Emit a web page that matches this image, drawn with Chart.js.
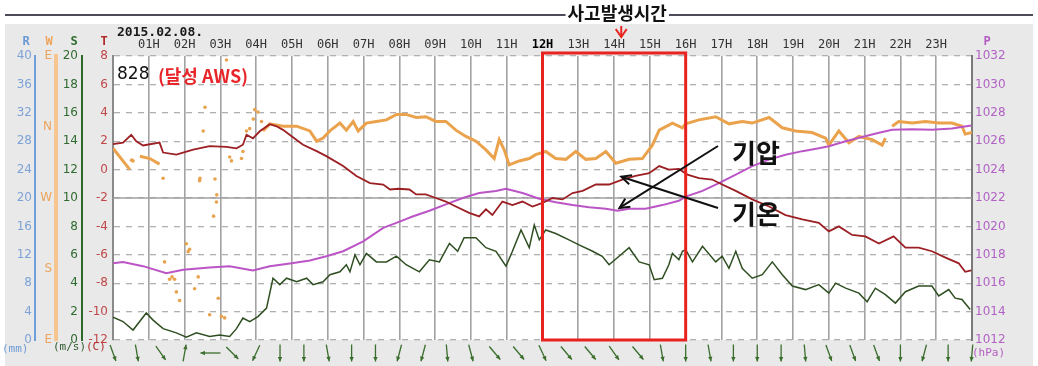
<!DOCTYPE html>
<html>
<head>
<meta charset="utf-8">
<script src="https://cdn.jsdelivr.net/npm/chart.js@4.4.1/dist/chart.umd.min.js"></script>
<style>
  html, body { margin: 0; padding: 0; background: #fff; }
  #wrap { width: 1038px; height: 366px; }
</style>
</head>
<body>
<div id="wrap"><canvas id="myChart" width="1038" height="366"></canvas></div>
<script>
// 기온 (C)
const tempHours = [0.00,0.28,0.51,0.65,0.84,1.30,1.40,1.77,2.24,2.70,3.17,3.45,3.63,3.73,3.91,4.10,4.38,4.57,4.75,4.99,5.31,5.69,5.96,6.43,6.80,7.18,7.55,7.74,7.97,8.28,8.47,8.74,9.02,9.30,9.58,9.95,10.23,10.42,10.60,10.88,11.16,11.44,11.72,12.00,12.28,12.56,12.84,13.12,13.49,13.86,14.23,14.60,14.98,15.26,15.53,15.81,16.05,16.37,16.74,17.02,17.40,17.86,18.33,18.79,19.26,19.72,20.00,20.28,20.65,21.02,21.40,21.81,22.14,22.51,22.88,23.26,23.63,23.81,23.98];
const tempValues = [1.8,1.9,2.45,2.0,1.7,1.9,1.2,1.05,1.4,1.65,1.6,1.5,1.75,2.45,2.2,2.7,3.2,3.05,2.8,2.35,1.75,1.3,0.95,0.25,-0.45,-0.95,-1.05,-1.4,-1.35,-1.4,-1.75,-1.75,-2.0,-2.25,-2.6,-3.05,-3.3,-2.8,-3.2,-2.25,-2.5,-2.25,-2.6,-2.35,-2.0,-2.1,-1.65,-1.5,-1.05,-1.05,-0.7,-0.45,-0.25,0.25,0.0,0.05,-0.35,-0.6,-0.7,-1.05,-1.5,-2.1,-2.6,-3.2,-3.5,-3.75,-4.35,-4.0,-4.6,-4.7,-5.2,-4.7,-5.5,-5.5,-5.75,-6.2,-6.6,-7.2,-7.1];

// 기압 (hPa)
const presHours = [0.0,0.28,0.84,1.49,1.96,2.70,3.26,3.91,4.38,4.99,5.50,5.96,6.43,6.99,7.55,7.97,8.37,8.84,9.30,9.77,10.23,10.70,10.98,11.44,11.91,12.37,12.84,13.30,13.77,14.10,14.42,14.88,15.35,15.81,16.0,16.47,16.93,17.40,17.86,18.33,18.79,19.26,19.72,20.0,20.47,20.93,21.40,21.77,22.33,22.88,23.44,23.98];
const presValues = [1017.4,1017.5,1017.2,1016.7,1016.95,1017.1,1017.2,1016.9,1017.2,1017.4,1017.6,1017.9,1018.25,1018.95,1019.9,1020.3,1020.7,1021.1,1021.55,1022.0,1022.35,1022.5,1022.65,1022.35,1021.95,1021.7,1021.5,1021.35,1021.25,1021.1,1021.25,1021.25,1021.5,1021.8,1022.1,1022.5,1023.05,1023.65,1024.25,1024.7,1025.05,1025.3,1025.5,1025.65,1026.0,1026.3,1026.6,1026.8,1026.85,1026.8,1026.9,1027.1];

// 풍속 (m/s)
const speedHours = [0.0,0.28,0.56,0.93,1.12,1.40,1.77,2.05,2.33,2.70,2.98,3.26,3.45,3.63,3.82,4.05,4.29,4.47,4.66,4.85,5.13,5.41,5.59,5.87,6.06,6.34,6.52,6.62,6.76,6.90,7.08,7.36,7.64,7.92,8.19,8.56,8.84,9.12,9.40,9.63,9.81,10.14,10.42,10.70,10.98,11.16,11.40,11.63,11.77,11.91,12.09,12.37,12.74,13.02,13.40,13.67,13.86,14.14,14.42,14.70,14.98,15.12,15.35,15.53,15.63,15.81,15.91,16.0,16.19,16.47,16.84,17.02,17.21,17.40,17.58,17.86,18.14,18.42,18.70,18.98,19.35,19.72,20.0,20.19,20.47,20.84,21.07,21.30,21.58,21.86,22.14,22.51,22.88,23.07,23.35,23.53,23.72,23.95];
const speedValues = [1.6,1.3,0.7,1.9,1.4,0.8,0.5,0.2,0.5,0.25,0.35,0.25,0.8,1.55,1.3,1.65,2.25,4.35,3.9,4.35,4.1,4.35,3.9,4.1,4.6,4.8,5.3,4.8,6.0,5.3,6.1,5.5,5.5,5.9,5.3,4.8,5.65,5.5,6.8,6.25,7.2,7.2,6.5,6.25,5.2,6.25,7.75,6.5,8.1,7.05,7.75,7.5,7.05,6.7,6.25,5.9,5.3,5.9,6.5,5.5,5.3,4.25,4.35,5.3,6.1,5.65,6.25,6.35,5.5,6.6,5.5,5.9,5.05,6.25,5.05,4.35,4.6,5.5,4.6,3.8,3.55,3.9,3.3,4.0,3.65,3.3,2.7,3.65,3.2,2.6,3.4,3.8,3.8,3.1,3.55,2.95,2.85,2.15];

// 풍향 (deg, null = 끊김)
const dirHours = [0.0,0.47,0.6,0.75,1.03,1.30,1.5,4.19,4.38,4.75,5.13,5.50,5.69,5.87,6.06,6.34,6.52,6.71,6.85,7.08,7.36,7.64,7.92,8.19,8.47,8.74,9.02,9.30,9.58,9.86,10.14,10.42,10.65,10.79,10.93,11.07,11.35,11.63,11.81,12.09,12.37,12.65,12.93,13.21,13.49,13.77,14.05,14.42,14.79,15.07,15.26,15.63,15.91,16.0,16.37,16.84,17.21,17.58,17.86,18.33,18.70,19.07,19.53,19.91,20.0,20.28,20.56,20.84,21.21,21.49,21.58,21.68,21.77,21.95,22.33,22.70,23.07,23.44,23.72,23.81,24.0];
const dirValues = [333,306,null,323,320,313,null,355,4,1,1,355,342,346,355,5,356,7,355,5,7,9,16,16,12,13,7,7,356,348,342,331,320,344,331,312,317,320,325,329,320,319,329,319,320,329,314,319,320,337,356,5,359,4,9,13,4,7,5,12,359,355,353,346,337,355,340,348,344,337,346,null,1,7,5,7,5,5,1,351,353];
// 풍향 흩어진 점 (새벽 약풍)
const dirDotHours = [0.52,0.56,1.40,1.44,1.58,1.65,1.72,1.77,1.86,2.05,2.10,2.14,2.28,2.38,2.42,2.43,2.52,2.57,2.70,2.81,2.85,2.89,2.90,2.94,3.03,3.12,3.17,3.26,3.31,3.59,3.63,3.73,3.82,3.92,3.96,4.05,4.15];
const dirDotValues = [318,317,295,189,167,170,167,151,140,212,202,205,155,170,292,295,355,25,122,247,294,265,274,143,120,118,85,322,317,320,329,355,358,10,22,19,7];

// 하단 바람 화살표 (40분 간격, 풍향 deg)
const arrowStepHours = 40 / 60;
const windArrowDirs = [340,350,325,190,90,315,25,0,0,350,0,0,15,15,355,345,320,320,335,320,320,325,320,350,0,350,0,0,0,355,340,340,340,0,15,0,5];

const dirLetters = { 90: 'E', 180: 'S', 270: 'W', 360: 'N', 450: 'E' };
const accidentStart = 12, accidentEnd = 16, accidentHour = 14.2;

function pts(xs, ys, f) {
  return xs.map((x, i) => ({ x: x, y: ys[i] === null ? null : (f ? f(ys[i]) : ys[i]) }));
}
const toW = d => (d < 90 ? d + 360 : d);

function arrow(ctx, x1, y1, x2, y2, head, open) {
  const ang = Math.atan2(y2 - y1, x2 - x1);
  ctx.beginPath(); ctx.moveTo(x1, y1); ctx.lineTo(x2, y2); ctx.stroke();
  ctx.beginPath();
  ctx.moveTo(x2 - head * Math.cos(ang - 0.45), y2 - head * Math.sin(ang - 0.45));
  ctx.lineTo(x2, y2);
  ctx.lineTo(x2 - head * Math.cos(ang + 0.45), y2 - head * Math.sin(ang + 0.45));
  if (open) ctx.stroke(); else { ctx.closePath(); ctx.fill(); }
}

const deco = {
  id: 'deco',
  beforeDraw(chart) {
    const { ctx, chartArea: a } = chart;
    ctx.save();
    ctx.fillStyle = '#fff';
    ctx.fillRect(0, 0, chart.width, chart.height);
    ctx.fillStyle = '#e9e9e9';
    ctx.fillRect(5, 24, 1028, 342);
    ctx.fillStyle = '#fff';
    ctx.fillRect(a.left, a.top, a.right - a.left, a.bottom - a.top);
    ctx.strokeStyle = '#4b4b5a';
    ctx.lineWidth = 2;
    ctx.beginPath(); ctx.moveTo(5, 15); ctx.lineTo(1033, 15); ctx.stroke();
    ctx.restore();
  },
  beforeDatasetsDraw(chart) {
    const { ctx, chartArea: a } = chart;
    const y = Math.round(chart.scales.yT.getPixelForValue(-2));
    ctx.save();
    ctx.strokeStyle = '#a0a0a0';
    ctx.lineWidth = 1.5;
    ctx.beginPath(); ctx.moveTo(a.left, y); ctx.lineTo(a.right, y); ctx.stroke();
    ctx.restore();
  },
  afterDraw(chart) {
    const { ctx, chartArea: a, scales } = chart;
    const xs = scales.x;
    ctx.save();

    // 사고 시간대 박스
    const bx1 = xs.getPixelForValue(accidentStart), bx2 = xs.getPixelForValue(accidentEnd);
    ctx.strokeStyle = '#e8221e';
    ctx.lineWidth = 3;
    ctx.strokeRect(bx1, a.top - 3, bx2 - bx1, a.bottom - a.top + 3);

    // 상단 제목
    ctx.font = 'bold 18px "Noto Sans CJK KR"';
    ctx.textBaseline = 'alphabetic';
    ctx.textAlign = 'center';
    const ax = xs.getPixelForValue(accidentHour);
    const tw = ctx.measureText('사고발생시간').width;
    ctx.fillStyle = '#fff';
    ctx.fillRect(ax - 4 - tw / 2 - 2, 2, tw + 4, 22);
    ctx.fillStyle = '#111';
    ctx.fillText('사고발생시간', ax - 4, 20);
    ctx.strokeStyle = '#e8221e';
    ctx.lineWidth = 2;
    ctx.beginPath(); ctx.moveTo(ax, 26); ctx.lineTo(ax, 37); ctx.stroke();
    ctx.beginPath(); ctx.moveTo(ax - 5.5, 29); ctx.lineTo(ax, 37); ctx.lineTo(ax + 5.5, 29); ctx.stroke();

    ctx.textAlign = 'left';
    ctx.font = 'bold 13px "DejaVu Sans Mono"';
    ctx.fillStyle = '#1a1a1a';
    ctx.fillText('2015.02.08.', 117, 36);

    ctx.font = '17px "DejaVu Sans"';
    ctx.fillStyle = '#111';
    ctx.fillText('828', 117, 79);
    ctx.font = 'bold 18px "Noto Sans CJK KR"';
    ctx.fillStyle = '#e8262a';
    ctx.fillText('(달성 AWS)', 158, 83);

    // 축 머리글
    ctx.font = 'bold 12px "DejaVu Sans Mono"';
    ctx.textAlign = 'center';
    ctx.textBaseline = 'middle';
    [['R', 26, '#6b9bd6'], ['W', 49, '#eea45a'], ['S', 74, '#2f6b2f'], ['T', 104, '#b02a2a'], ['P', 987, '#b45cc2']]
      .forEach(([t, x, c]) => { ctx.fillStyle = c; ctx.fillText(t, x, 42); });

    // 단위
    ctx.font = '11px "DejaVu Sans Mono"';
    ctx.textAlign = 'left';
    ctx.fillStyle = '#6b9bd6'; ctx.fillText('(mm)', 2, 349);
    ctx.fillStyle = '#2f5a2f'; ctx.fillText('(m/s)', 53, 347);
    ctx.fillStyle = '#b02a2a'; ctx.fillText('(C)', 86, 347);
    ctx.fillStyle = '#b45cc2'; ctx.fillText('(hPa)', 972, 353);

    // 바람 화살표
    ctx.strokeStyle = '#3a6e2c';
    ctx.fillStyle = '#3a6e2c';
    ctx.lineWidth = 1.3;
    windArrowDirs.forEach((d, i) => {
      const x = xs.getPixelForValue(i * arrowStepHours);
      const y = a.bottom + 13;
      const t = (d + 180) * Math.PI / 180;
      const dx = Math.sin(t), dy = -Math.cos(t);
      const L = 8.5;
      if (d === 90) {
        arrow(ctx, x + 12, y, x - 8, y, 5, false);
      } else {
        arrow(ctx, x - dx * L, y - dy * L, x + dx * L, y + dy * L, 5, false);
      }
    });

    // 기압 / 기온 주석
    ctx.fillStyle = '#111';
    ctx.font = 'bold 26px "Noto Sans CJK KR"';
    ctx.textBaseline = 'alphabetic';
    ctx.fillText('기압', 732, 163);
    ctx.fillText('기온', 732, 224);
    ctx.strokeStyle = '#111';
    ctx.lineWidth = 2;
    arrow(ctx, 718, 146, xs.getPixelForValue(14.15), scales.yP.getPixelForValue(1021.3), 11, true);
    arrow(ctx, 718, 208, xs.getPixelForValue(14.2), scales.yT.getPixelForValue(-0.5), 11, true);

    ctx.restore();
  }
};

const tickFont = { family: 'DejaVu Sans', size: 12 };
const plain = v => String(v);
function sideAxis(pos, weight, width, min, max, step, pad, color, borderColor, borderWidth, cb) {
  return {
    position: pos, weight: weight, min: min, max: max,
    afterFit: s => { s.width = width; },
    ticks: { stepSize: step, padding: pad, color: color, font: tickFont, autoSkip: false, callback: cb || plain },
    grid: { display: false, drawTicks: false },
    border: { display: true, color: borderColor, width: borderWidth }
  };
}

new Chart(document.getElementById('myChart'), {
  type: 'line',
  data: {
    datasets: [
      { label: '기온', data: pts(tempHours, tempValues), yAxisID: 'yT',
        borderColor: '#9c1f24', borderWidth: 1.8, pointRadius: 0, tension: 0 },
      { label: '기압', data: pts(presHours, presValues), yAxisID: 'yP',
        borderColor: '#bb55c6', borderWidth: 2, pointRadius: 0, tension: 0 },
      { label: '풍속', data: pts(speedHours, speedValues), yAxisID: 'yS',
        borderColor: '#2f4f22', borderWidth: 1.5, pointRadius: 0, tension: 0 },
      { label: '풍향', data: pts(dirHours, dirValues, toW), yAxisID: 'yW',
        borderColor: '#eba24c', borderWidth: 3, pointRadius: 0, tension: 0, spanGaps: false },
      { label: '풍향점', data: pts(dirDotHours, dirDotValues, toW), yAxisID: 'yW', showLine: false,
        pointRadius: 1.8, pointBackgroundColor: '#e9a34e', pointBorderWidth: 0 }
    ]
  },
  options: {
    responsive: false,
    animation: false,
    devicePixelRatio: 1,
    layout: { padding: { left: 0, right: 26, top: 0, bottom: 26 } },
    plugins: { legend: { display: false }, tooltip: { enabled: false } },
    scales: {
      x: {
        type: 'linear', position: 'top', min: 0, max: 24,
        afterFit: s => { s.height = 56; },
        ticks: {
          stepSize: 1, autoSkip: false, maxRotation: 0, padding: 4,
          callback: v => (v > 0 && v < 24) ? String(v).padStart(2, '0') + 'H' : '',
          color: c => (c.tick && c.tick.value === 12) ? '#000' : '#333',
          font: c => ({ family: 'DejaVu Sans Mono', size: 12, weight: (c.tick && c.tick.value === 12) ? 'bold' : 'normal' })
        },
        grid: { color: '#a2a2a2', lineWidth: 1.6, drawTicks: false },
        border: { display: false }
      },
      yR: sideAxis('left', 4, 35, 0, 40, 4, 3, '#7ea3d6', '#6f9fd8', 2),
      yW: sideAxis('left', 3, 21, 90, 450, 90, 4, '#eca35c', '#f6c590', 4, v => dirLetters[v] || ''),
      yS: sideAxis('left', 2, 26, 0, 20, 2, 4, '#2f6b2f', '#2c6a2c', 2),
      yT: {
        position: 'left', weight: 1, min: -12, max: 8,
        afterFit: s => { s.width = 31; },
        ticks: { stepSize: 2, padding: 5, color: '#c04848', font: tickFont, autoSkip: false, callback: plain },
        grid: { color: '#b0b0b0', lineWidth: 1.3, drawTicks: false },
        border: { display: true, color: '#8a8a8a', width: 2, dash: [6, 6] }
      },
      yP: {
        position: 'right', min: 1012, max: 1032,
        afterFit: s => { s.width = 40; },
        ticks: { stepSize: 2, padding: 3, color: '#b162c4', font: tickFont, autoSkip: false, callback: plain },
        grid: { display: false, drawTicks: false },
        border: { display: true, color: '#7a7a7a', width: 2 }
      }
    }
  },
  plugins: [deco]
});
</script>
</body>
</html>
